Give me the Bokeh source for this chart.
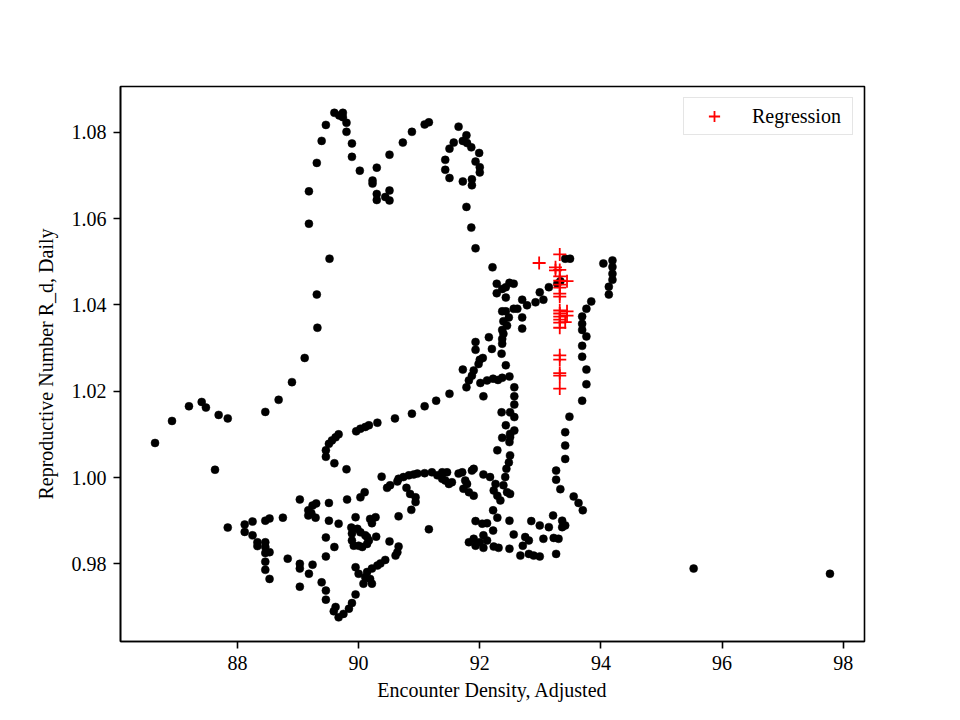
from bokeh.plotting import figure
from bokeh.models import FixedTicker, PrintfTickFormatter, Range1d
from bokeh.embed import file_html
from bokeh.resources import INLINE

# Encounter density (x) and daily reproductive number (y) of the observations
x_density = [
    86.64, 86.92, 87.20, 87.41, 87.48, 87.69, 87.84, 87.63, 87.84, 88.12,
    88.12, 88.25, 88.46, 88.53, 88.75, 89.03, 89.17, 89.24, 89.30, 89.17,
    89.29, 89.22, 88.25, 88.33, 88.33, 88.46, 88.46, 88.46, 88.53, 88.46,
    88.46, 88.53, 88.83, 89.03, 89.03, 89.24, 89.18, 89.03, 89.39, 89.46,
    89.46, 89.51, 89.46, 89.46, 89.51, 89.51, 89.46, 89.46, 88.90, 88.68,
    88.46, 89.11, 89.32, 89.31, 89.52, 89.18, 89.18, 89.31, 89.39, 89.46,
    89.60, 89.68, 89.74, 89.74, 89.80, 89.80, 89.89, 89.89, 90.02, 90.30,
    90.23, 90.23, 90.30, 90.30, 90.44, 90.51, 90.51, 90.51, 90.73, 90.88,
    91.09, 91.16, 91.65, 91.78, 91.72, 91.79, 91.86, 91.57, 91.50, 91.43,
    91.43, 91.50, 91.72, 91.87, 91.87, 91.99, 91.93, 92.00, 92.00, 91.78,
    91.86, 91.93, 92.21, 92.28, 92.28, 92.37, 92.43, 92.49, 92.56, 92.43,
    92.70, 92.62, 92.56, 92.78, 92.92, 92.99, 93.05, 93.14, 93.28, 93.33,
    93.41, 93.49, 94.04, 94.19, 94.19, 94.19, 94.19, 94.13, 94.13, 93.84,
    93.76, 93.69, 93.69, 93.69, 93.76, 93.69, 93.69, 93.76, 93.76, 93.69,
    93.48, 93.41, 93.41, 93.41, 93.26, 93.26, 93.33, 93.55, 93.63, 93.70,
    93.21, 93.36, 93.41, 93.36, 93.14, 92.99, 92.85, 93.05, 93.22, 93.30,
    93.26, 92.56, 92.75, 92.81, 92.71, 92.67, 92.81, 92.89, 92.99, 92.49,
    92.49, 92.22, 92.29, 91.93, 92.04, 92.12, 92.22, 91.90, 92.06, 92.00,
    92.12, 91.93, 92.06, 92.23, 92.31, 92.37, 92.50, 92.49, 92.29, 92.50,
    92.48, 92.44, 92.42, 92.39, 92.45, 92.50, 92.34, 92.29, 92.23, 92.26,
    92.17, 92.06, 91.90, 91.87, 91.71, 91.65, 91.46, 91.43, 91.49, 91.76,
    91.73, 91.82, 91.90, 91.79, 92.57, 92.57, 92.57, 92.50, 92.57, 92.43,
    92.57, 92.36, 92.50, 92.37, 92.43, 92.48, 92.39, 92.45, 92.37, 92.39,
    92.37, 92.37, 92.70, 92.70, 92.15, 91.93, 91.93, 92.20, 92.36, 92.05,
    91.98, 92.43, 91.72, 91.90, 91.87, 91.82, 91.78, 92.01, 92.12, 92.22,
    92.30, 92.37, 92.49, 91.50, 92.06, 92.00, 91.28, 91.09, 90.88, 90.60,
    90.31, 90.17, 90.11, 90.03, 89.96, 89.67, 89.62, 89.56, 89.60, 89.80,
    90.38, 90.47, 90.52, 90.64, 90.66, 90.74, 90.83, 90.91, 90.97, 91.09,
    91.21, 91.30, 91.38, 91.38, 91.54, 90.79, 90.85, 90.94, 90.94, 90.87,
    90.66, 91.16, 91.82, 90.10, 90.03, 89.81, 89.67, 89.95, 90.19, 90.28,
    90.22, 89.88, 89.89, 89.89, 89.92, 90.00, 90.06, 90.14, 90.17, 90.11,
    90.03, 89.98, 90.14, 90.29, 89.60, 90.51, 90.66, 90.64, 90.61, 90.44,
    90.36, 90.31, 90.22, 90.14, 90.11, 90.19, 90.22, 90.08, 90.00, 89.95,
    89.95, 89.89, 89.84, 89.75, 89.67, 89.59, 89.62, 95.53, 97.78,
]
r_daily = [
    1.0080, 1.0131, 1.0165, 1.0175, 1.0162, 1.0145, 1.0137, 1.0018, 0.9884, 0.9891,
    0.9874, 0.9898, 0.9900, 0.9905, 0.9907, 0.9949, 0.9924, 0.9935, 0.9940, 0.9912,
    0.9907, 0.9917, 0.9866, 0.9850, 0.9841, 0.9850, 0.9839, 0.9825, 0.9827, 0.9805,
    0.9786, 0.9765, 0.9812, 0.9800, 0.9789, 0.9798, 0.9777, 0.9747, 0.9757, 0.9738,
    0.9717, 1.0078, 1.0063, 1.0048, 0.9941, 0.9900, 0.9861, 0.9817, 1.0221, 1.0180,
    1.0152, 1.0277, 1.0347, 1.0424, 1.0507, 1.0588, 1.0663, 1.0729, 1.0780, 1.0817,
    1.0845, 1.0839, 1.0845, 1.0835, 1.0822, 1.0801, 1.0774, 1.0743, 1.0711, 1.0718,
    1.0688, 1.0681, 1.0657, 1.0643, 1.0650, 1.0665, 1.0642, 1.0748, 1.0776, 1.0801,
    1.0818, 1.0823, 1.0813, 1.0793, 1.0780, 1.0775, 1.0765, 1.0776, 1.0762, 1.0736,
    1.0713, 1.0694, 1.0686, 1.0691, 1.0677, 1.0752, 1.0732, 1.0719, 1.0707, 1.0627,
    1.0579, 1.0531, 1.0487, 1.0449, 1.0427, 1.0437, 1.0441, 1.0451, 1.0449, 1.0417,
    1.0412, 1.0391, 1.0391, 1.0399, 1.0406, 1.0429, 1.0412, 1.0441, 1.0449, 1.0455,
    1.0507, 1.0507, 1.0496, 1.0503, 1.0488, 1.0472, 1.0458, 1.0442, 1.0424, 1.0408,
    1.0391, 1.0373, 1.0356, 1.0342, 1.0327, 1.0305, 1.0280, 1.0250, 1.0216, 1.0178,
    1.0141, 1.0105, 1.0074, 1.0043, 1.0016, 0.9995, 0.9973, 0.9956, 0.9941, 0.9924,
    0.9912, 0.9900, 0.9889, 0.9885, 0.9885, 0.9889, 0.9899, 0.9858, 0.9860, 0.9858,
    0.9823, 0.9868, 0.9862, 0.9854, 0.9842, 0.9819, 0.9823, 0.9819, 0.9817, 0.9900,
    0.9835, 0.9924, 0.9907, 0.9899, 0.9893, 0.9894, 0.9877, 0.9858, 0.9866, 0.9850,
    0.9854, 0.9842, 0.9837, 0.9840, 0.9837, 1.0092, 1.0101, 1.0082, 1.0063, 1.0051,
    1.0035, 1.0020, 1.0001, 0.9982, 0.9966, 0.9962, 0.9947, 0.9958, 0.9970, 0.9985,
    1.0001, 1.0007, 1.0020, 1.0016, 1.0012, 1.0009, 1.0012, 0.9993, 0.9985, 0.9993,
    0.9974, 0.9966, 0.9958, 0.9985, 1.0209, 1.0188, 1.0169, 1.0151, 1.0140, 1.0121,
    1.0109, 1.0151, 1.0093, 1.0385, 1.0385, 1.0371, 1.0362, 1.0352, 1.0342, 1.0333,
    1.0321, 1.0310, 1.0371, 1.0345, 1.0325, 1.0314, 1.0296, 1.0298, 1.0287, 1.0277,
    1.0263, 1.0260, 1.0250, 1.0248, 1.0236, 1.0225, 1.0209, 1.0219, 1.0225, 1.0229,
    1.0226, 1.0231, 1.0234, 1.0194, 1.0188, 1.0273, 1.0178, 1.0165, 1.0148, 1.0137,
    1.0127, 1.0121, 1.0117, 1.0113, 1.0107, 1.0100, 1.0093, 1.0086, 1.0033, 1.0019,
    1.0002, 0.9976, 0.9982, 0.9991, 0.9997, 1.0001, 1.0005, 1.0007, 1.0009, 1.0010,
    1.0012, 1.0005, 1.0012, 0.9997, 0.9989, 0.9976, 0.9962, 0.9954, 0.9943, 0.9925,
    0.9910, 0.9880, 0.9850, 0.9966, 0.9954, 0.9949, 0.9893, 0.9908, 0.9904, 0.9908,
    0.9894, 0.9884, 0.9870, 0.9854, 0.9842, 0.9842, 0.9839, 0.9846, 0.9854, 0.9866,
    0.9873, 0.9881, 0.9862, 0.9863, 0.9839, 0.9852, 0.9840, 0.9827, 0.9819, 0.9809,
    0.9801, 0.9796, 0.9789, 0.9781, 0.9769, 0.9765, 0.9754, 0.9754, 0.9777, 0.9792,
    0.9729, 0.9709, 0.9696, 0.9684, 0.9676, 0.9690, 0.9700, 0.9789, 0.9777,
]

# Regression points
reg_x = [
    93.32, 92.98, 93.25, 93.25, 93.32, 93.32, 93.32, 93.44, 93.32, 93.32,
    93.32, 93.32, 93.32, 93.32, 93.32, 93.32, 93.32, 93.44, 93.44, 93.41,
    93.32, 93.32, 93.32, 93.32, 93.32, 93.32,
]
reg_y = [
    1.0517, 1.0497, 1.0487, 1.0480, 1.0481, 1.0466, 1.0456, 1.0455, 1.0447, 1.0440,
    1.0426, 1.0419, 1.0387, 1.0380, 1.0373, 1.0366, 1.0359, 1.0385, 1.0375, 1.0360,
    1.0347, 1.0283, 1.0273, 1.0242, 1.0236, 1.0206,
]

x_ticks = [88, 90, 92, 94, 96, 98]
y_ticks = [0.98, 1.00, 1.02, 1.04, 1.06, 1.08]

FONT = "Liberation Serif"

p = figure(
    frame_width=744, frame_height=555,
    min_border_left=120, min_border_right=96,
    min_border_top=86, min_border_bottom=79,
    x_range=Range1d(86.07, 98.35), y_range=Range1d(0.962, 1.0906),
    output_backend="svg", toolbar_location=None,
    background_fill_color="white", border_fill_color="white",
)

p.scatter(x_density, r_daily, marker="circle", size=8,
          fill_color="black", line_color="black", line_width=0.5)
p.scatter(reg_x, reg_y, marker="cross", size=13, line_color="red",
          line_width=1.8, legend_label="Regression")

p.xgrid.visible = False
p.ygrid.visible = False
p.outline_line_color = "black"
p.outline_line_width = 1.6

p.xaxis.ticker = FixedTicker(ticks=x_ticks)
p.yaxis.ticker = FixedTicker(ticks=y_ticks)
p.xaxis.formatter = PrintfTickFormatter(format="%d")
p.yaxis.formatter = PrintfTickFormatter(format="%.2f")

p.xaxis.axis_label = "Encounter Density, Adjusted"
p.yaxis.axis_label = "Reproductive Number R_d, Daily"

for ax in (p.xaxis[0], p.yaxis[0]):
    ax.axis_line_color = "black"
    ax.axis_line_width = 1.6
    ax.major_tick_line_color = "black"
    ax.major_tick_line_width = 1.6
    ax.major_tick_out = 7
    ax.major_tick_in = 0
    ax.minor_tick_line_color = None
    ax.major_label_text_font = FONT
    ax.major_label_text_font_size = "20px"
    ax.major_label_text_color = "black"
    ax.major_label_standoff = 7
    ax.axis_label_text_font = FONT
    ax.axis_label_text_font_size = "20px"
    ax.axis_label_text_font_style = "normal"
    ax.axis_label_text_color = "black"

p.xaxis.axis_label_standoff = 6
p.yaxis.axis_label_standoff = 12

leg = p.legend[0]
leg.location = "top_right"
leg.margin = 11
leg.padding = 4
leg.spacing = 0
leg.glyph_width = 52
leg.glyph_height = 28
leg.label_height = 20
leg.label_width = 96
leg.label_standoff = 12
leg.label_text_font = FONT
leg.label_text_font_size = "20px"
leg.label_text_color = "black"
leg.border_line_color = "#cccccc"
leg.border_line_width = 1.5
leg.background_fill_color = "white"
leg.background_fill_alpha = 0.8

open("out.html", "w").write(file_html(p, INLINE))
